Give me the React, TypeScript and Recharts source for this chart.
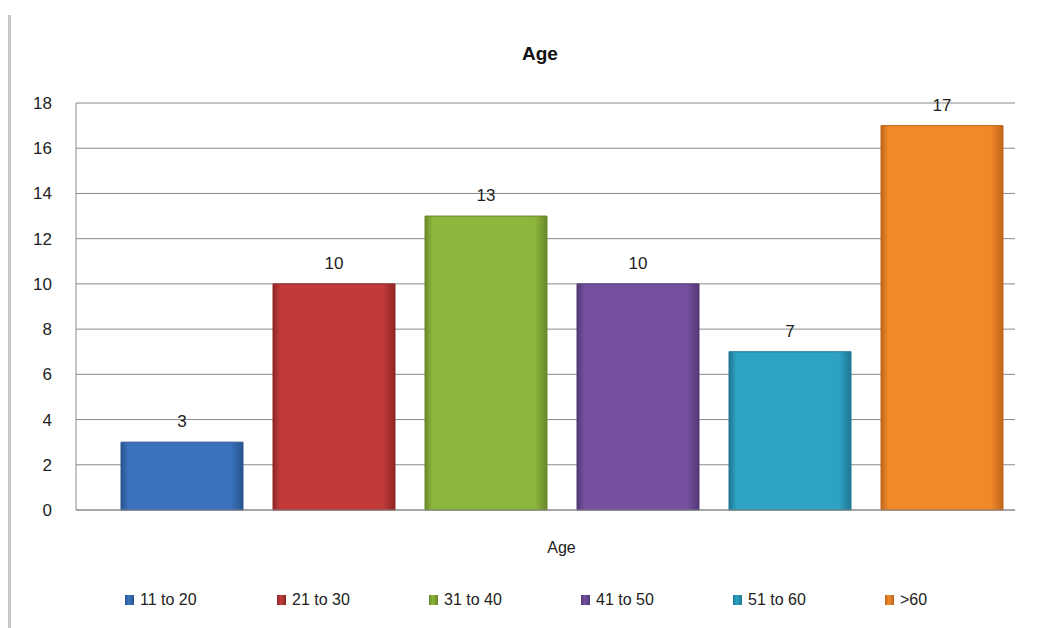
import { BarChart, Bar, XAxis, YAxis, CartesianGrid, Legend, LabelList } from 'recharts'

const categories = ['Age']
const seriesNames = ['11 to 20', '21 to 30', '31 to 40', '41 to 50', '51 to 60', '>60']
const seriesValues = [3, 10, 13, 10, 7, 17]
const seriesColors = ['#3a72bd', '#c23a3a', '#8db63c', '#74509f', '#2ea2c3', '#f1882a']
const seriesEdges = ['#28548f', '#8f2626', '#68882a', '#533877', '#1f7894', '#c0651a']
const yTicks = [0, 2, 4, 6, 8, 10, 12, 14, 16, 18]

const FONT = '"Liberation Sans", Arial, sans-serif'

const data = categories.map((name) => {
    const row: Record<string, string | number> = { name }
    seriesNames.forEach((s, i) => {
        row[s] = seriesValues[i]
    })
    return row
})

const LegendContent = ({ payload }: any) => (
    <div style={{ display: 'flex', paddingLeft: 125, height: 20, alignItems: 'center', fontFamily: FONT }}>
        {(payload || []).map((item: any, i: number) => (
            <div key={i} style={{ width: 152, display: 'flex', alignItems: 'center', gap: 6 }}>
                <div
                    style={{
                        width: 9,
                        height: 10,
                        background: `linear-gradient(90deg, ${seriesEdges[i]}, ${seriesColors[i]} 40%, ${seriesEdges[i]})`,
                    }}
                />
                <span style={{ fontSize: 16, color: '#222' }}>{item.value}</span>
            </div>
        ))}
    </div>
)

export default function App() {
    return (
        <div style={{ position: 'absolute', left: 0, top: 0, width: 1060, height: 628, background: '#fff' }}>
            <div style={{ position: 'absolute', left: 8, top: 15, width: 3, height: 613, background: '#c8c8c8' }} />
            <div
                style={{
                    position: 'absolute',
                    left: 0,
                    top: 43,
                    width: 1080,
                    textAlign: 'center',
                    fontFamily: FONT,
                    fontWeight: 'bold',
                    fontSize: 19,
                    color: '#111',
                }}
            >
                Age
            </div>
            <BarChart
                width={1060}
                height={628}
                data={data}
                margin={{ top: 103, right: 45, left: 16, bottom: 18 }}
                barCategoryGap={13}
                barGap={30}
            >
                <defs>
                    {seriesColors.map((c, i) => (
                        <linearGradient key={i} id={`grad${i}`} x1="0" y1="0" x2="1" y2="0">
                            <stop offset="0%" stopColor={seriesEdges[i]} />
                            <stop offset="6%" stopColor={c} />
                            <stop offset="90%" stopColor={c} />
                            <stop offset="100%" stopColor={seriesEdges[i]} />
                        </linearGradient>
                    ))}
                </defs>
                <CartesianGrid vertical={false} stroke="#8a8a8a" />
                <XAxis
                    dataKey="name"
                    padding={{ left: 32, right: 0 }}
                    axisLine={{ stroke: '#8a8a8a' }}
                    tickLine={false}
                    tickMargin={26}
                    height={80}
                    tick={{ fill: '#222', fontSize: 16, fontFamily: FONT }}
                />
                <YAxis
                    domain={[0, 18]}
                    ticks={yTicks}
                    width={60}
                    axisLine={{ stroke: '#8a8a8a' }}
                    tickLine={false}
                    tickMargin={18}
                    tick={{ fill: '#222', fontSize: 17, fontFamily: FONT }}
                />
                <Legend verticalAlign="bottom" wrapperStyle={{ left: 0, width: 1060 }} content={<LegendContent />} />
                {seriesNames.map((s, i) => (
                    <Bar
                        key={s}
                        dataKey={s}
                        name={s}
                        fill={`url(#grad${i})`}
                        stroke={seriesEdges[i]}
                        strokeWidth={1}
                        isAnimationActive={false}
                    >
                        <LabelList dataKey={s} position="top" offset={15} fill="#222" fontSize={17} fontFamily={FONT} />
                    </Bar>
                ))}
            </BarChart>
        </div>
    )
}
